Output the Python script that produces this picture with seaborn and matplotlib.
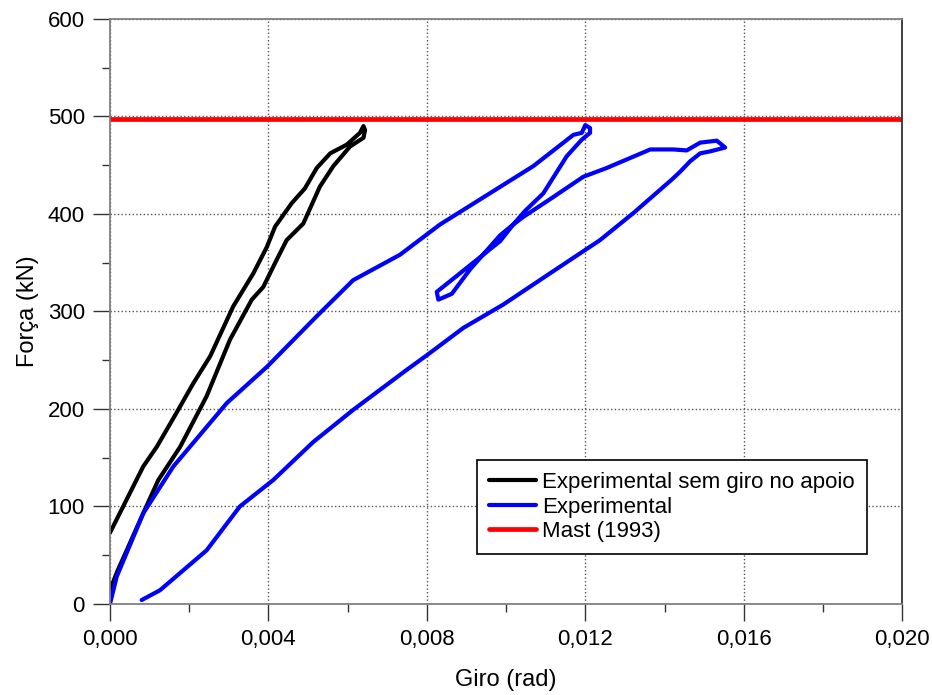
import matplotlib
matplotlib.use("Agg")
import matplotlib.pyplot as plt
import seaborn as sns
import pandas as pd
from matplotlib.ticker import MultipleLocator, FuncFormatter

# curves (giro in rad, força in kN)
giro_sem_apoio = [0.0, 0.00084, 0.00118, 0.00168, 0.0021, 0.00253, 0.00311, 0.00362,
                  0.00396, 0.00417, 0.00459, 0.00492, 0.00522, 0.00556, 0.00598, 0.00631,
                  0.0064, 0.00644, 0.0064, 0.00606, 0.00564, 0.0053, 0.00488, 0.00446,
                  0.00421, 0.00387, 0.00358, 0.00303, 0.00244, 0.00177, 0.00122, 0.00084,
                  0.00017, 0.0]
forca_sem_apoio = [73, 141, 161, 196, 226, 254, 305, 339,
                   366, 387, 411, 426, 447, 462, 471, 483,
                   490, 486, 478, 469, 449, 428, 390, 373,
                   353, 325, 312, 271, 213, 161, 127, 93,
                   32, 14]

giro_exp = [0.0, 0.00017, 0.00084, 0.0016, 0.00295, 0.00396, 0.00522, 0.00614,
            0.00732, 0.00833, 0.01069, 0.0117, 0.01191, 0.012, 0.01212, 0.01212,
            0.01191, 0.01153, 0.01094, 0.01048, 0.01018, 0.00985, 0.00859, 0.00825,
            0.00829, 0.00863, 0.00909, 0.00985, 0.01018, 0.01044, 0.01111, 0.01195,
            0.01254, 0.01364, 0.01423, 0.01456, 0.0149, 0.01532, 0.01553, 0.01515,
            0.0149, 0.01465, 0.01439, 0.01418, 0.01322, 0.01237, 0.01111, 0.00993,
            0.00892, 0.008, 0.00749, 0.00614, 0.00513, 0.00412, 0.00328, 0.00244,
            0.00126, 0.0008]
forca_exp = [0, 28, 93, 141, 206, 243, 295, 332,
             358, 389, 449, 481, 483, 491, 488, 483,
             476, 459, 421, 403, 389, 372, 331, 320,
             312, 318, 343, 378, 389, 397, 415, 438,
             447, 466, 466, 465, 473, 475, 468, 464,
             462, 454, 443, 435, 401, 373, 339, 307,
             283, 255, 240, 199, 166, 127, 100, 55,
             14, 4]

forca_mast = 497

sem_apoio = pd.DataFrame({"giro": giro_sem_apoio, "forca": forca_sem_apoio})
exp = pd.DataFrame({"giro": giro_exp, "forca": forca_exp})

sns.set_style("ticks")
plt.rcParams["font.family"] = ["Liberation Sans", "DejaVu Sans"]
plt.rcParams["text.color"] = "black"
plt.rcParams["axes.labelcolor"] = "black"
plt.rcParams["xtick.labelcolor"] = "black"
plt.rcParams["ytick.labelcolor"] = "black"

fig, ax = plt.subplots(figsize=(9.32, 6.95), dpi=100)
fig.subplots_adjust(left=0.118, right=0.968, bottom=0.131, top=0.973)

ax.grid(True, which="major", color="#555555", linestyle=":", linewidth=1)
ax.set_axisbelow(True)

sns.lineplot(data=sem_apoio, x="giro", y="forca", sort=False, estimator=None,
             color="black", linewidth=3, label="Experimental sem giro no apoio", ax=ax)
sns.lineplot(data=exp, x="giro", y="forca", sort=False, estimator=None,
             color="#0000ff", linewidth=3, label="Experimental", ax=ax)
ax.axhline(forca_mast, color="#ff0000", linewidth=3.4, label="Mast (1993)")

ax.set_xlim(0, 0.02)
ax.set_ylim(0, 600)
ax.xaxis.set_major_locator(MultipleLocator(0.004))
ax.xaxis.set_minor_locator(MultipleLocator(0.002))
ax.yaxis.set_major_locator(MultipleLocator(100))
ax.yaxis.set_minor_locator(MultipleLocator(50))
ax.xaxis.set_major_formatter(FuncFormatter(lambda v, p: f"{v:.3f}".replace(".", ",")))
ax.yaxis.set_major_formatter(FuncFormatter(lambda v, p: f"{v:.0f}"))

ax.tick_params(which="major", length=12, width=1, color="#333333", labelsize=16, pad=6)
ax.tick_params(which="minor", length=6, width=1, color="#333333")

ax.set_xlabel("Giro (rad)", fontsize=17, labelpad=14)
ax.set_ylabel("Força (kN)", fontsize=17, labelpad=6)

for side in ["left", "bottom", "top"]:
    ax.spines[side].set_color("#808080")
    ax.spines[side].set_linewidth(1.3)
ax.spines["right"].set_color("#333333")
ax.spines["right"].set_linewidth(1.3)

leg = ax.legend(loc="upper left", bbox_to_anchor=(0.463, 0.246), fontsize=16,
                frameon=True, fancybox=False, edgecolor="black", framealpha=1,
                handlelength=2.1, handletextpad=0.3, labelspacing=0.15,
                borderpad=0.55, borderaxespad=0)
leg.get_frame().set_linewidth(1.2)

plt.savefig("out.png", dpi=100)
